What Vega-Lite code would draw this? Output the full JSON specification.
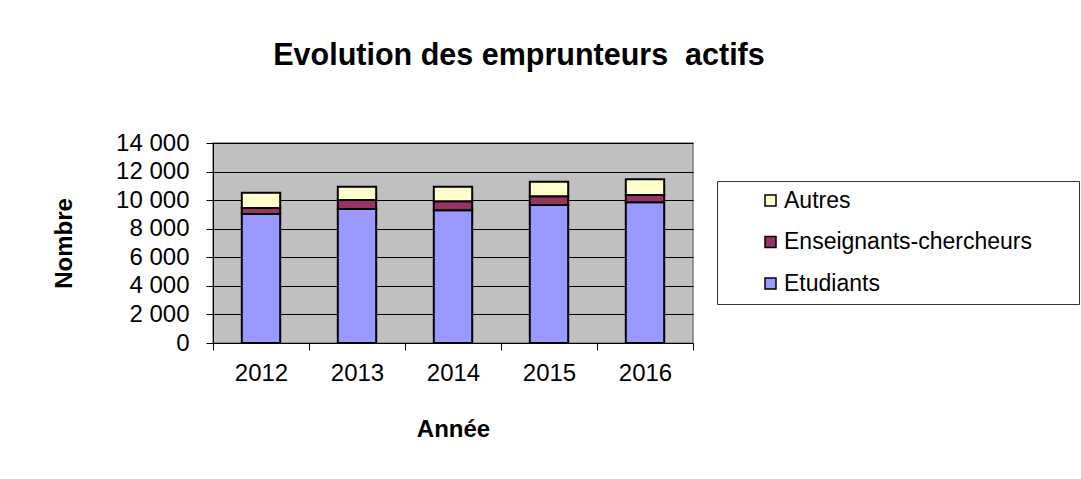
{
  "$schema": "https://vega.github.io/schema/vega-lite/v6.json",
  "width": 480,
  "height": 200,
  "autosize": {"type": "none"},
  "padding": {"left": 213, "top": 143, "right": 388, "bottom": 136},
  "background": "white",
  "title": {
    "text": "Evolution des emprunteurs\u00a0 actifs",
    "font": "Liberation Sans",
    "fontSize": 30.5,
    "fontWeight": "bold",
    "color": "black",
    "anchor": "middle",
    "dx": 66,
    "offset": 60
  },
  "config": {
    "locale": {"number": {"decimal": ",", "thousands": "\u00a0", "grouping": [3], "currency": ["", "\u00a0€"]}},
    "font": "Liberation Sans",
    "view": {"fill": "#C0C0C0", "stroke": "#808080", "strokeWidth": 1.5}
  },
  "data": {
    "values": [
      {"annee": "2012", "categorie": "Etudiants", "nombre": 9030, "rang": 1},
      {"annee": "2012", "categorie": "Enseignants-chercheurs", "nombre": 420, "rang": 2},
      {"annee": "2012", "categorie": "Autres", "nombre": 1070, "rang": 3},
      {"annee": "2013", "categorie": "Etudiants", "nombre": 9380, "rang": 1},
      {"annee": "2013", "categorie": "Enseignants-chercheurs", "nombre": 630, "rang": 2},
      {"annee": "2013", "categorie": "Autres", "nombre": 930, "rang": 3},
      {"annee": "2014", "categorie": "Etudiants", "nombre": 9290, "rang": 1},
      {"annee": "2014", "categorie": "Enseignants-chercheurs", "nombre": 630, "rang": 2},
      {"annee": "2014", "categorie": "Autres", "nombre": 1020, "rang": 3},
      {"annee": "2015", "categorie": "Etudiants", "nombre": 9660, "rang": 1},
      {"annee": "2015", "categorie": "Enseignants-chercheurs", "nombre": 610, "rang": 2},
      {"annee": "2015", "categorie": "Autres", "nombre": 1020, "rang": 3},
      {"annee": "2016", "categorie": "Etudiants", "nombre": 9850, "rang": 1},
      {"annee": "2016", "categorie": "Enseignants-chercheurs", "nombre": 510, "rang": 2},
      {"annee": "2016", "categorie": "Autres", "nombre": 1100, "rang": 3}
    ]
  },
  "mark": {"type": "bar", "stroke": "black", "strokeWidth": 2, "width": {"band": 0.4}},
  "encoding": {
    "x": {
      "field": "annee",
      "type": "nominal",
      "scale": {"paddingInner": 0, "paddingOuter": 0},
      "axis": {
        "title": "Année",
        "titleFontSize": 24,
        "titleFontWeight": "bold",
        "titleColor": "black",
        "titlePadding": 32,
        "labelAngle": 0,
        "labelFontSize": 24,
        "labelColor": "black",
        "labelPadding": 11,
        "tickBand": "extent",
        "tickSize": 7,
        "tickColor": "black",
        "domainColor": "black",
        "grid": false
      }
    },
    "y": {
      "field": "nombre",
      "type": "quantitative",
      "stack": "zero",
      "scale": {"domain": [0, 14000], "nice": false},
      "axis": {
        "title": "Nombre",
        "titleFontSize": 24,
        "titleFontWeight": "bold",
        "titleColor": "black",
        "titlePadding": 39,
        "values": [0, 2000, 4000, 6000, 8000, 10000, 12000, 14000],
        "format": ",d",
        "labelFontSize": 24,
        "labelColor": "black",
        "labelPadding": 17,
        "tickSize": 7,
        "tickColor": "black",
        "domainColor": "black",
        "grid": true,
        "gridColor": "black",
        "gridWidth": 1
      }
    },
    "color": {
      "field": "categorie",
      "type": "nominal",
      "scale": {
        "domain": ["Autres", "Enseignants-chercheurs", "Etudiants"],
        "range": ["#FFFFCC", "#993366", "#9999FF"]
      },
      "legend": {
        "orient": "none",
        "legendX": 504,
        "legendY": 38,
        "title": null,
        "padding": 8,
        "strokeColor": "#333333",
        "fillColor": "white",
        "symbolType": "square",
        "symbolSize": 121,
        "symbolStrokeColor": "black",
        "symbolStrokeWidth": 1.5,
        "symbolOffset": 34,
        "labelOffset": 2,
        "labelFontSize": 23,
        "labelLimit": 500,
        "labelExpr": "datum.label + '\u00a0\u00a0\u00a0\u00a0\u00a0\u00a0\u200b'",
        "labelColor": "black",
        "rowPadding": 17.5
      }
    },
    "order": {"field": "rang", "type": "quantitative"}
  }
}
